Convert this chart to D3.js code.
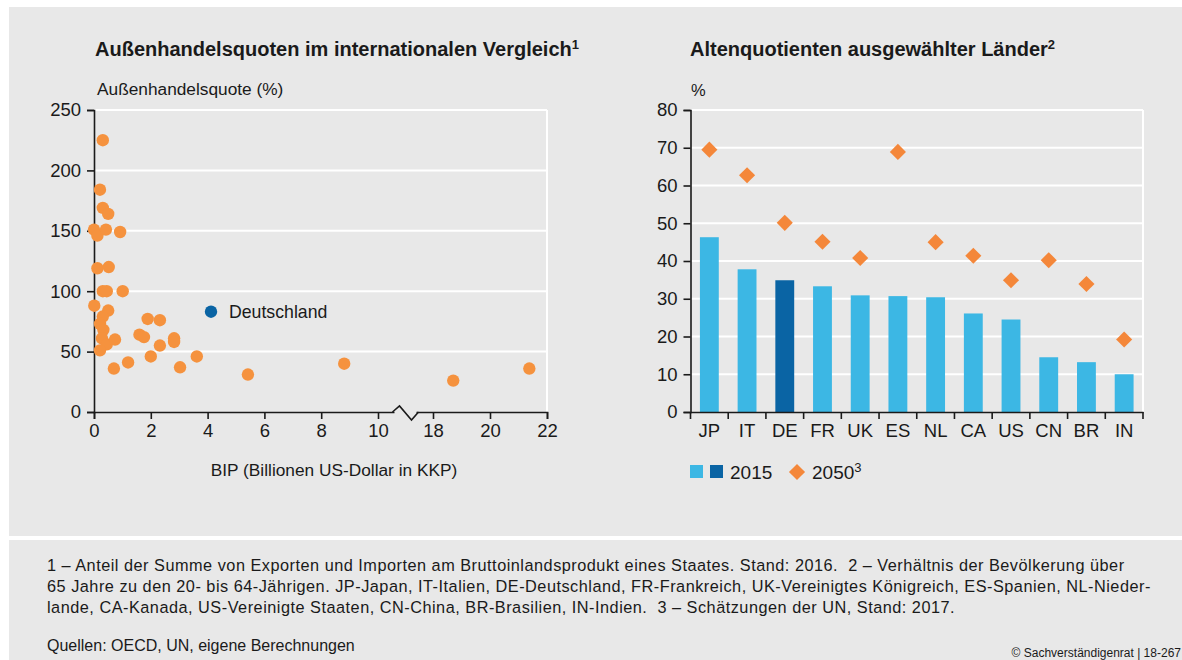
<!DOCTYPE html>
<html>
<head>
<meta charset="utf-8">
<script src="https://cdn.jsdelivr.net/npm/d3@7"></script>
<style>
  body { margin: 0; background: #fff; }
  svg { display: block; font-family: "Liberation Sans", Arial, sans-serif; }
  svg text { white-space: pre; }
</style>
</head>
<body>
<div id="chart"></div>
<script>
// Left chart: trade openness vs GDP
const bip = [0.31, 0.21, 0.31, 0.5, 0.0, 0.12, 0.42, 0.92, 0.12, 0.52, 0.31, 0.45, 1.01, 0.01, 0.5, 0.31, 0.21, 0.33, 0.28, 0.45, 0.74, 0.21, 0.7, 1.2, 1.89, 2.32, 1.6, 1.76, 2.0, 2.32, 2.82, 2.82, 3.03, 3.62, 5.42, 8.81, 18.71, 21.38];
const quote = [225, 184, 169, 164, 151, 146, 151, 149, 119, 120, 100, 100, 100, 88, 84, 79, 73, 68, 61, 56, 60, 51, 36, 41, 77, 76, 64, 62, 46, 55, 61, 58, 37, 46, 31, 40, 26, 36];
const germany = { bip: 4.12, quote: 83, label: "Deutschland" };
const xTicksLeft = [0, 2, 4, 6, 8, 10, 18, 20, 22];
const yTicksLeft = [0, 50, 100, 150, 200, 250];

// Right chart: old-age dependency ratios
const countries = ["JP", "IT", "DE", "FR", "UK", "ES", "NL", "CA", "US", "CN", "BR", "IN"];
const ratio2015 = [46.3, 37.8, 34.9, 33.3, 30.9, 30.7, 30.4, 26.1, 24.5, 14.5, 13.2, 10.0];
const ratio2050 = [69.5, 62.7, 50.1, 45.1, 40.8, 68.9, 45.0, 41.4, 34.9, 40.2, 33.9, 19.2];
const yTicksRight = [0, 10, 20, 30, 40, 50, 60, 70, 80];

const footnotes = [
  "1 – Anteil der Summe von Exporten und Importen am Bruttoinlandsprodukt eines Staates. Stand: 2016.  2 – Verhältnis der Bevölkerung über",
  "65 Jahre zu den 20- bis 64-Jährigen. JP-Japan, IT-Italien, DE-Deutschland, FR-Frankreich, UK-Vereinigtes Königreich, ES-Spanien, NL-Nieder-",
  "lande, CA-Kanada, US-Vereinigte Staaten, CN-China, BR-Brasilien, IN-Indien.  3 – Schätzungen der UN, Stand: 2017."
];

const bg = "#e8e8e8", ink = "#1a1a1a";
const orange = "#f5923e", diamondOrange = "#f4873a";
const lightBlue = "#3cb7e4", darkBlue = "#0a64a4";

const svg = d3.select("#chart").append("svg")
  .attr("width", 1182).attr("height", 660);

// panels
svg.append("rect").attr("x", 9).attr("y", 7).attr("width", 1173).attr("height", 529).attr("fill", bg);
svg.append("rect").attr("x", 9).attr("y", 540).attr("width", 1173).attr("height", 120).attr("fill", bg);

function styleAxis(g) {
  g.select(".domain").attr("stroke", ink).attr("stroke-width", 1.6);
  g.selectAll(".tick line").attr("stroke", ink).attr("stroke-width", 1.6);
  g.selectAll(".tick text").attr("fill", ink).attr("font-size", 18.5)
    .attr("font-family", "Liberation Sans, Arial, sans-serif");
}

function title(x, y, txt, sup) {
  const t = svg.append("text").attr("x", x).attr("y", y)
    .attr("font-size", 20).attr("font-weight", "bold").attr("fill", ink).text(txt);
  t.append("tspan").attr("dy", -7).attr("font-size", 13).text(sup);
}

// ---------- Left chart ----------
const plotTop = 110, plotBottom = 412;
const xL = d3.scaleLinear().domain([0, 10, 18, 22]).range([94, 378, 433, 547]);
const yL = d3.scaleLinear().domain([0, 250]).range([plotBottom, plotTop]);

title(95, 56, "Außenhandelsquoten im internationalen Vergleich", "1");
svg.append("text").attr("x", 97).attr("y", 95).attr("font-size", 17.3).attr("fill", ink)
  .text("Außenhandelsquote (%)");

svg.append("g").selectAll("line").data(yTicksLeft.filter(d => d > 0)).join("line")
  .attr("x1", xL(0)).attr("x2", xL(22)).attr("y1", d => yL(d)).attr("y2", d => yL(d))
  .attr("stroke", "#fff").attr("stroke-width", 2);
svg.append("line").attr("x1", xL(22)).attr("x2", xL(22)).attr("y1", yL(250)).attr("y2", yL(0))
  .attr("stroke", "#fff").attr("stroke-width", 2);

svg.append("g").attr("transform", `translate(${xL(0)},0)`)
  .call(d3.axisLeft(yL).tickValues(yTicksLeft).tickSize(7).tickPadding(6))
  .call(styleAxis);
svg.append("g").attr("transform", `translate(0,${plotBottom})`)
  .call(d3.axisBottom(xL).tickValues(xTicksLeft).tickSize(7).tickPadding(5))
  .call(styleAxis);

// axis break
const bx = (xL(10) + xL(18)) / 2;
svg.append("rect").attr("x", bx - 11).attr("y", plotBottom - 2).attr("width", 22).attr("height", 4).attr("fill", bg);
svg.append("path")
  .attr("d", `M${bx - 13},${plotBottom} L${bx - 6},${plotBottom - 6} L${bx + 6},${plotBottom + 8} L${bx + 13},${plotBottom}`)
  .attr("fill", "none").attr("stroke", ink).attr("stroke-width", 1.6);

svg.append("text").attr("x", 334).attr("y", 476).attr("text-anchor", "middle")
  .attr("font-size", 17.3).attr("fill", ink).text("BIP (Billionen US-Dollar in KKP)");

svg.append("g").selectAll("circle").data(d3.range(bip.length)).join("circle")
  .attr("cx", i => xL(bip[i])).attr("cy", i => yL(quote[i])).attr("r", 6.2)
  .attr("fill", orange);

svg.append("circle").attr("cx", xL(germany.bip)).attr("cy", yL(germany.quote)).attr("r", 6.2)
  .attr("fill", darkBlue);
svg.append("text").attr("x", xL(germany.bip) + 18).attr("y", yL(germany.quote) + 6)
  .attr("font-size", 17.7).attr("fill", ink).text(germany.label);

// ---------- Right chart ----------
const xR = d3.scaleBand().domain(countries).range([690.5, 1143]).padding(0);
const yR = d3.scaleLinear().domain([0, 80]).range([plotBottom, plotTop]);

title(690, 56, "Altenquotienten ausgewählter Länder", "2");
svg.append("text").attr("x", 691).attr("y", 96).attr("font-size", 16.5).attr("fill", ink).text("%");

svg.append("g").selectAll("line").data(yTicksRight.filter(d => d > 0)).join("line")
  .attr("x1", xR.range()[0]).attr("x2", xR.range()[1]).attr("y1", d => yR(d)).attr("y2", d => yR(d))
  .attr("stroke", "#fff").attr("stroke-width", 2);
svg.append("line").attr("x1", xR.range()[1]).attr("x2", xR.range()[1]).attr("y1", yR(80)).attr("y2", yR(0))
  .attr("stroke", "#fff").attr("stroke-width", 2);

const barW = xR.bandwidth() * 0.5;
svg.append("g").selectAll("rect").data(countries).join("rect")
  .attr("x", (d) => xR(d) + (xR.bandwidth() - barW) / 2)
  .attr("width", barW)
  .attr("y", (d, i) => yR(ratio2015[i]))
  .attr("height", (d, i) => yR(0) - yR(ratio2015[i]))
  .attr("fill", d => d === "DE" ? darkBlue : lightBlue);

const diamond = d3.symbol().type(d3.symbolSquare).size(130);
svg.append("g").selectAll("path").data(countries).join("path")
  .attr("d", diamond)
  .attr("transform", (d, i) => `translate(${xR(d) + xR.bandwidth() / 2},${yR(ratio2050[i])}) rotate(45)`)
  .attr("fill", diamondOrange);

svg.append("g").attr("transform", `translate(${xR.range()[0]},0)`)
  .call(d3.axisLeft(yR).tickValues(yTicksRight).tickSize(7).tickPadding(6))
  .call(styleAxis);

// category axis with ticks at the band edges
const xAxisR = svg.append("g").attr("transform", `translate(0,${plotBottom})`)
  .call(d3.axisBottom(xR).tickSize(0).tickPadding(12))
  .call(styleAxis);
xAxisR.selectAll(".edge").data(countries.concat(["end"])).join("line")
  .attr("class", "edge")
  .attr("x1", (d, i) => xR.range()[0] + i * xR.step()).attr("x2", (d, i) => xR.range()[0] + i * xR.step())
  .attr("y1", 0).attr("y2", 7).attr("stroke", ink).attr("stroke-width", 1.6);

// legend
const lg = svg.append("g").attr("transform", "translate(690,465)");
lg.append("rect").attr("width", 13).attr("height", 13).attr("fill", lightBlue);
lg.append("rect").attr("x", 20).attr("width", 13).attr("height", 13).attr("fill", darkBlue);
lg.append("text").attr("x", 40).attr("y", 14).attr("font-size", 19).attr("fill", ink).text("2015");
lg.append("path").attr("d", diamond).attr("transform", "translate(107,7) rotate(45)").attr("fill", diamondOrange);
const lt = lg.append("text").attr("x", 122).attr("y", 14).attr("font-size", 19).attr("fill", ink).text("2050");
lt.append("tspan").attr("dy", -7).attr("font-size", 13).text("3");

// ---------- Footer ----------
svg.append("g").selectAll("text").data(footnotes).join("text")
  .attr("x", 47).attr("y", (d, i) => 571 + i * 21)
  .attr("font-size", 16.3).attr("letter-spacing", 0.5).attr("fill", ink).text(d => d);
svg.append("text").attr("x", 47).attr("y", 651).attr("font-size", 16).attr("fill", ink)
  .text("Quellen: OECD, UN, eigene Berechnungen");
svg.append("text").attr("x", 1181).attr("y", 657).attr("text-anchor", "end")
  .attr("font-size", 12).attr("fill", ink).text("© Sachverständigenrat | 18-267");
</script>
</body>
</html>
